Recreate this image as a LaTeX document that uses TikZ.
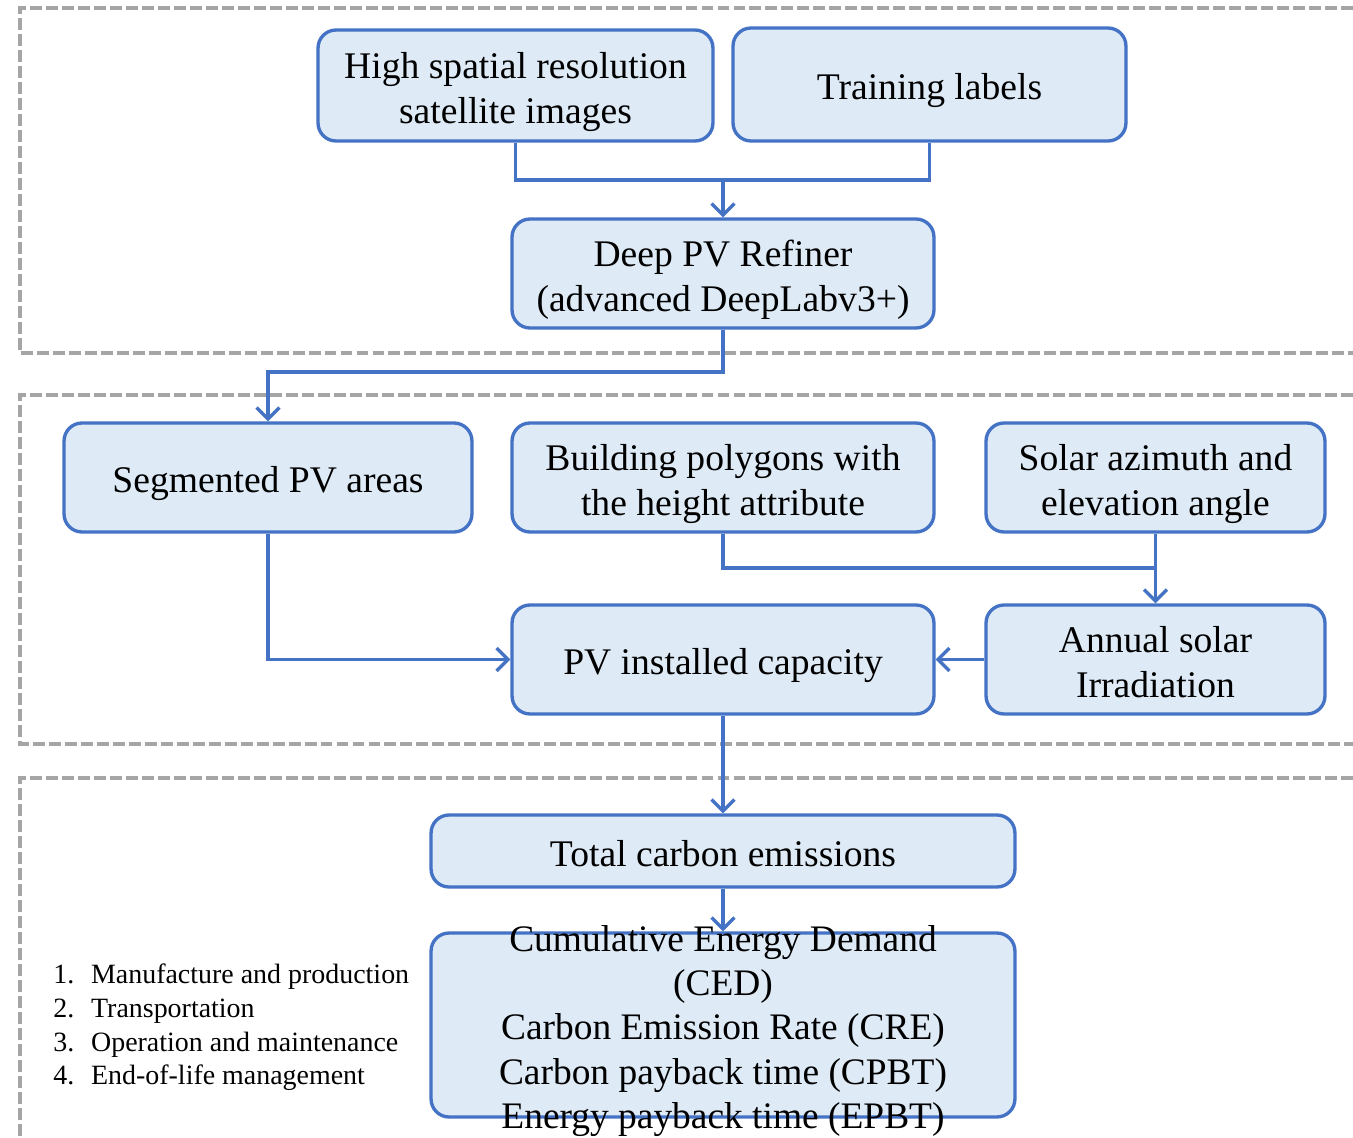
\documentclass[tikz,border=0pt]{standalone}
\usepackage{fontspec}
\setmainfont{Liberation Serif}
\usetikzlibrary{arrows.meta}
\definecolor{boxfill}{HTML}{DEEAF6}
\definecolor{boxline}{HTML}{4472C4}
\definecolor{dashgray}{HTML}{A5A5A5}
\newcommand\tstrut{\rule{0pt}{1.03em}}
\newcommand\dstrut{\rule[-0.22em]{0pt}{0.22em}}
\tikzset{
  stepbox/.style={draw=boxline, fill=boxfill, line width=1.9pt, rounded corners=0.36cm,
    align=center, inner sep=0pt, font=\fontsize{21.4}{25.5}\selectfont},
  conn/.style={draw=boxline, line width=1.9pt},
  arr/.style={conn, -{Straight Barb[length=6.5pt,width=13pt,line width=1.9pt]}},
  region/.style={draw=dashgray, line width=2pt, dash pattern=on 6.8pt off 2.3pt}
}
\begin{document}
\begin{tikzpicture}[x=0.02cm,y=-0.02cm]
\useasboundingbox (0,0) rectangle (1353,1138);
% dashed regions
\draw[region] (1353,8) -| (20,353) -- (1353,353);
\draw[region] (1353,395) -| (20,744) -- (1353,744);
\draw[region] (1353,778) -| (20,1140);
% boxes
\node[stepbox, minimum width=7.9cm, minimum height=2.22cm] (b1) at (515.5,85.5) {\tstrut High spatial resolution\\satellite images\dstrut};
\node[stepbox, minimum width=7.86cm, minimum height=2.26cm] (b2) at (929.5,84.5) {\tstrut Training labels\dstrut};
\node[stepbox, minimum width=8.44cm, minimum height=2.18cm] (b3) at (723,273.5) {\tstrut Deep PV Refiner\\(advanced DeepLabv3+)\dstrut};
\node[stepbox, minimum width=8.16cm, minimum height=2.18cm] (b4) at (268,477.5) {\tstrut Segmented PV areas\dstrut};
\node[stepbox, minimum width=8.44cm, minimum height=2.18cm] (b5) at (723,477.5) {\tstrut Building polygons with\\the height attribute\dstrut};
\node[stepbox, minimum width=6.78cm, minimum height=2.18cm] (b6) at (1155.5,477.5) {\tstrut Solar azimuth and\\elevation angle\dstrut};
\node[stepbox, minimum width=8.44cm, minimum height=2.18cm] (b7) at (723,659.5) {\tstrut PV installed capacity\dstrut};
\node[stepbox, minimum width=6.78cm, minimum height=2.18cm] (b8) at (1155.5,659.5) {\tstrut Annual solar\\Irradiation\dstrut};
\node[stepbox, minimum width=11.68cm, minimum height=1.44cm] (b9) at (723,851) {\tstrut Total carbon emissions\dstrut};
\node[draw=boxline, fill=boxfill, line width=1.9pt, rounded corners=0.36cm, inner sep=0pt,
  minimum width=11.68cm, minimum height=3.68cm] (b10) at (723,1025) {};
\node[align=center, inner sep=0pt, font=\fontsize{21.3}{25.2}\selectfont] (b10t) at (723,1031)
  {Cumulative Energy Demand\\(CED)\\Carbon Emission Rate (CRE)\\Carbon payback time (CPBT)\\Energy payback time (EPBT)};
\node[anchor=west, align=left, inner sep=0pt, font=\fontsize{15.9}{19.1}\selectfont] (list) at (53,1027.5)
  {\makebox[21.5pt][l]{1.}Manufacture and production\\
   \makebox[21.5pt][l]{2.}Transportation\\
   \makebox[21.5pt][l]{3.}Operation and maintenance\\
   \makebox[21.5pt][l]{4.}End-of-life management};
% junctions
\coordinate (j1) at (723,180);
\coordinate (j2) at (268,372);
\coordinate (j3) at (1155.5,568);
% connectors
\draw[conn] (b1.south) |- (j1) -| (b2.south);
\draw[arr] (j1) -- (b3.north);
\draw[arr] (b3.south) |- (j2) -- (b4.north);
\draw[arr] (b4.south) |- (b7.west);
\draw[conn] (b5.south) |- (j3);
\draw[arr] (b6.south) -- (b8.north);
\draw[arr] (b8.west) -- (b7.east);
\draw[arr] (b7.south) -- (b9.north);
\draw[arr] (b9.south) -- (b10.north);
\end{tikzpicture}
\end{document}
